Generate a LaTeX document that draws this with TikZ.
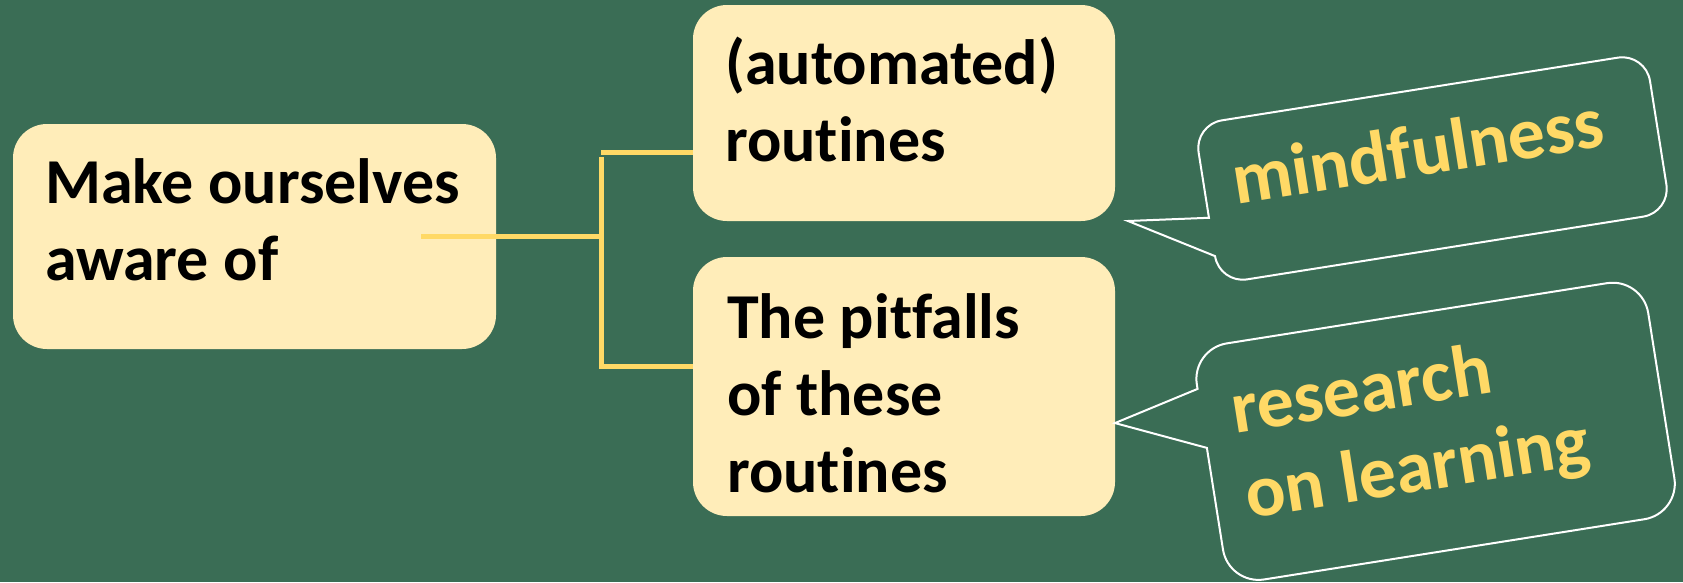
\documentclass[tikz,border=0pt]{standalone}
\usepackage{fontspec}
\setmainfont{Carlito}[Ligatures=NoCommon]
\definecolor{bggreen}{HTML}{3A6D55}
\definecolor{boxfill}{HTML}{FFEDB9}
\definecolor{gold}{HTML}{FFD966}
\begin{document}
\begin{tikzpicture}[x=1pt,y=-1pt,
  box/.style={fill=boxfill, draw=none, rounded corners=34pt, inner sep=0pt},
  boxtext/.style={font=\fontsize{64}{77}\selectfont\bfseries, text=black, align=left, inner sep=0pt, anchor=base west},
  bubtext/.style={font=\fontsize{74}{86}\selectfont\bfseries, text=gold, align=left, inner sep=0pt, anchor=base west, rotate=9},
  conn/.style={draw=gold, line width=5pt},
  bubble/.style={draw=white, line width=2pt, line join=miter}]
\useasboundingbox (0,0) rectangle (1683,582);
\fill[bggreen] (0,0) rectangle (1683,582);
% boxes
\node[box, minimum width=483pt, minimum height=225pt] (lb) at (254.5,236.5) {};
\node[box, minimum width=422pt, minimum height=216pt] (tb) at (904,113) {};
\node[box, minimum width=422pt, minimum height=259pt] (bb) at (904,386.5) {};
% connectors
\coordinate (lin) at (421,236);
\coordinate (jm) at (601,236);
\coordinate (jt) at (601,152);
\coordinate (jv) at (601,157);
\coordinate (jb) at (601,366);
\draw[conn] (lin) -- (jm);
\draw[conn] (tb.west |- jt) -- (jt);
\draw[conn] (jv) -- (jb) -- (bb.west |- jb);
% texts (anchor = baseline of the last line)
\node[boxtext] (lbt) at (45,280) {Make ourselves\\aware of};
\node[boxtext] (tbt) at (725,161) {(automated)\\routines};
\node[boxtext] (bbt) at (727,492) {The pitfalls\\of these\\routines};
% bubble 1
\begin{scope}[shift={(1432.5,168.5)}, rotate=9]
\draw[bubble] (-228.5,13.7) -- (-309,4.2) -- (-228.5,52.5)
  .. controls (-228.5,68) and (-216,80.5) .. (-200.5,80.5)
  -- (200.5,80.5) .. controls (216,80.5) and (228.5,68) .. (228.5,52.5)
  -- (228.5,-52.5) .. controls (228.5,-68) and (216,-80.5) .. (200.5,-80.5)
  -- (-200.5,-80.5) .. controls (-216,-80.5) and (-228.5,-68) .. (-228.5,-52.5)
  -- cycle;
\node[bubtext] (mind) at (-200,5.3) {mindfulness};
\end{scope}
% bubble 2
\begin{scope}[shift={(1435.6,431.3)}, rotate=9]
\draw[bubble] (-228.5,-19.4) -- (-315.4,-58.3) -- (-228.5,-79.1) -- (-228.5,-83.5)
  .. controls (-228.5,-103.4) and (-212.4,-119.5) .. (-192.5,-119.5)
  -- (192.5,-119.5) .. controls (212.4,-119.5) and (228.5,-103.4) .. (228.5,-83.5)
  -- (228.5,83.5) .. controls (228.5,103.4) and (212.4,119.5) .. (192.5,119.5)
  -- (-192.5,119.5) .. controls (-212.4,119.5) and (-228.5,103.4) .. (-228.5,83.5)
  -- cycle;
\node[bubtext] (res) at (-198,57) {research\\on learning};
\end{scope}
\end{tikzpicture}
\end{document}
